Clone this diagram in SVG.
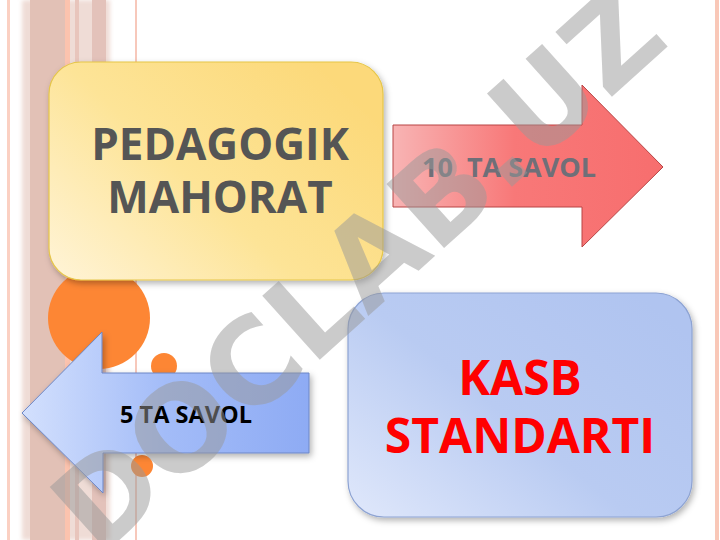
<svg xmlns="http://www.w3.org/2000/svg" width="720" height="540" viewBox="0 0 720 540">
<style>
.lbl{font-family:"Open Sans","Liberation Sans",sans-serif;font-weight:bold;text-anchor:middle}
</style>
<defs>
<filter id="blur2" x="-50%" y="-5%" width="200%" height="110%"><feGaussianBlur stdDeviation="2"/></filter>
<filter id="shadow" x="-10%" y="-10%" width="125%" height="125%"><feDropShadow dx="2" dy="3" stdDeviation="3" flood-color="#000" flood-opacity="0.3"/></filter>
<linearGradient id="gYellow" x1="0" y1="1" x2="1" y2="0.3">
<stop offset="0" stop-color="#fff4d8"/><stop offset="0.5" stop-color="#fde497"/><stop offset="1" stop-color="#fcd97a"/>
</linearGradient>
<linearGradient id="gBlueBox" x1="0" y1="1" x2="1" y2="0.2">
<stop offset="0" stop-color="#e0e8fb"/><stop offset="0.5" stop-color="#b9cbf2"/><stop offset="1" stop-color="#b0c4f0"/>
</linearGradient>
<linearGradient id="gRed" x1="0" y1="0" x2="1" y2="0">
<stop offset="0" stop-color="#f8b4b4"/><stop offset="0.45" stop-color="#f87878"/><stop offset="1" stop-color="#f76e6e"/>
</linearGradient>
<linearGradient id="gBlueArrow" x1="0" y1="0" x2="1" y2="0">
<stop offset="0" stop-color="#d3e0fd"/><stop offset="0.5" stop-color="#a3bcf8"/><stop offset="1" stop-color="#8eabf4"/>
</linearGradient>
</defs>
<rect width="720" height="540" fill="#fff"/>
<g id="background">
<rect x="7" y="0" width="3" height="540" fill="#fbd0c2"/>
<rect x="22" y="0" width="88" height="540" fill="#efdcd6" filter="url(#blur2)"/>
<rect x="30" y="0" width="35" height="540" fill="#e2c1b6"/>
<rect x="65" y="0" width="5" height="540" fill="#fcc3ae"/>
<rect x="75" y="0" width="4" height="540" fill="#e8c5bc"/>
<rect x="92" y="0" width="14" height="540" fill="#e3c2ba"/>
<rect x="135" y="0" width="2" height="540" fill="#f7c8bb"/>
<rect x="715" y="0" width="4" height="540" fill="#f9c8b8"/>
<circle cx="99" cy="318" r="51" fill="#fd8634"/>
<circle cx="164" cy="366" r="13" fill="#fd8634"/>
<circle cx="142" cy="466" r="11" fill="#fd8634"/>
</g>
<g id="pedagogik">
<rect x="49" y="62" width="334" height="218" rx="32" fill="url(#gYellow)" stroke="#e6c648" stroke-width="1.2" filter="url(#shadow)"/>
<text class="lbl" x="220" y="160" font-size="44" fill="#555555">PEDAGOGIK</text>
<text class="lbl" x="220" y="213" font-size="44" fill="#555555">MAHORAT</text>
</g>
<g id="arrow10">
<path d="M393 125 H582 V85 L663 167 L582 247 V207 H393 Z" fill="url(#gRed)" stroke="#b84545" stroke-width="1"/>
<text class="lbl" x="509" y="177" font-size="27" fill="#6f6f78" xml:space="preserve">10  TA SAVOL</text>
</g>
<g id="kasb">
<rect x="348" y="293" width="344" height="224" rx="36" fill="url(#gBlueBox)" stroke="#8da3d3" stroke-width="1.2" filter="url(#shadow)"/>
<text class="lbl" x="520" y="395" font-size="48" fill="#ff0000">KASB</text>
<text class="lbl" x="520" y="453" font-size="48" fill="#ff0000">STANDARTI</text>
</g>
<g id="arrow5">
<path d="M309 373 H102 V332 L22 413 L103 493 V453 H309 Z" fill="url(#gBlueArrow)" stroke="#6c86c6" stroke-width="1" filter="url(#shadow)"/>
<text class="lbl" x="186" y="423" font-size="23.5" fill="#000">5 TA SAVOL</text>
</g>
<g id="connectors"/>
<g id="watermark" transform="translate(356,268) rotate(-42)" opacity="0.5">
<text x="0" y="44" font-family="'DejaVu Sans',sans-serif" font-weight="bold" font-size="118" fill="#999999" text-anchor="middle" textLength="770" lengthAdjust="spacing">DOCLAB.UZ</text>
</g>
</svg>
